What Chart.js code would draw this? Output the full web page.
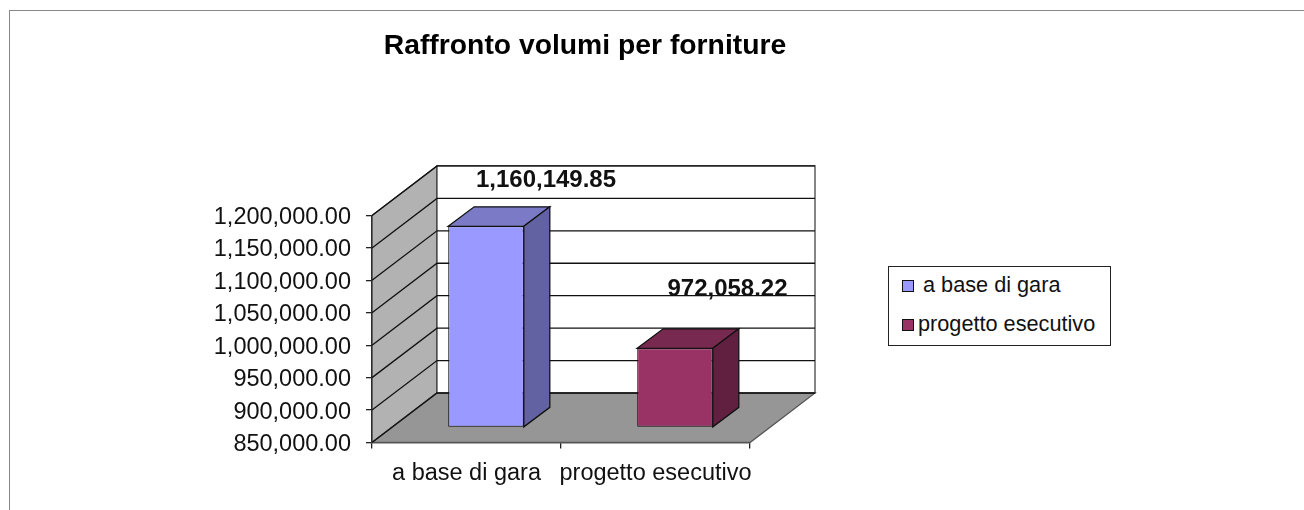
<!DOCTYPE html>
<html>
<head>
<meta charset="utf-8">
<title>Raffronto volumi per forniture</title>
<script src="https://cdn.jsdelivr.net/npm/chart.js@4"></script>
<style>
    html, body { margin: 0; padding: 0; background: #fff; overflow: hidden; }
    #wrap { position: relative; width: 1304px; height: 510px; filter: blur(0.45px); }
    #frame { position: absolute; left: 9px; top: 10px; right: -5px; bottom: -5px; border-left: 1px solid #888; border-top: 1px solid #888; }
    #myChart { position: absolute; left: 0; top: 0; }
    #legend {
        position: absolute; left: 888px; top: 266px; width: 221px; height: 78px;
        border: 1px solid #222; background: #fff;
        font: 21.7px "Liberation Sans", Arial, sans-serif; color: #111;
    }
    #legend div { position: absolute; white-space: nowrap; line-height: 26px; }
    #legend i { position: absolute; width: 10px; height: 10px; border: 1px solid #111; }
</style>
</head>
<body>
<div id="wrap">
    <div id="frame"></div>
    <canvas id="myChart" width="1304" height="510"></canvas>
    <div id="legend"></div>
</div>
<script>
// Data
const categories = ['a base di gara', 'progetto esecutivo'];
const volumes = [1160149.85, 972058.22];
const yTicks = [850000, 900000, 950000, 1000000, 1050000, 1100000, 1150000, 1200000];

// Bar colours: front, top and side face
const frontColors = ['#9999ff', '#993366'];
const topColors = ['#7a7ac6', '#78294f'];
const sideColors = ['#6262a3', '#612040'];

// 3d look
const wallDepth = { x: 65, y: -49.5 };
const barOffset = { x: 19.5, y: -15 };
const barDepth = { x: 26, y: -19.5 };
const labelShift = [{ x: 79.5, y: -61 }, { x: 72, y: -74 }];
const lineW = 1.3;

function money(v) {
    return v.toLocaleString('en-US', { minimumFractionDigits: 2, maximumFractionDigits: 2 });
}

function poly(ctx, pts, fill, stroke) {
    ctx.beginPath();
    ctx.moveTo(pts[0][0], pts[0][1]);
    for (let i = 1; i < pts.length; i++) ctx.lineTo(pts[i][0], pts[i][1]);
    ctx.closePath();
    if (fill) { ctx.fillStyle = fill; ctx.fill(); }
    if (stroke) { ctx.strokeStyle = stroke; ctx.lineWidth = lineW; ctx.stroke(); }
}

// Walls, floor and gridlines behind the bars
const wallsPlugin = {
    id: 'walls',
    afterLayout(chart) {
        // title is centred over the plot + legend gap, not the whole canvas
        chart.titleBlock.right = 1170;
    },
    beforeDatasetsDraw(chart) {
        const ctx = chart.ctx;
        const a = chart.chartArea;
        const dx = wallDepth.x, dy = wallDepth.y;
        ctx.save();
        poly(ctx, [[a.left, a.bottom], [a.left, a.top], [a.left + dx, a.top + dy], [a.left + dx, a.bottom + dy]], '#b2b2b2', '#333');
        poly(ctx, [[a.left, a.bottom], [a.left + dx, a.bottom + dy], [a.right + dx, a.bottom + dy], [a.right, a.bottom]], '#969696', '#555');
        poly(ctx, [[a.left + dx, a.top + dy], [a.right + dx, a.top + dy], [a.right + dx, a.bottom + dy], [a.left + dx, a.bottom + dy]], '#fff', '#444');
        ctx.strokeStyle = '#111';
        ctx.lineWidth = lineW;
        yTicks.forEach(function(t) {
            const y = chart.scales.y.getPixelForValue(t);
            ctx.beginPath();
            ctx.moveTo(a.left, y);
            ctx.lineTo(a.left + dx, y + dy);
            ctx.lineTo(a.right + dx, y + dy);
            ctx.stroke();
        });
        ctx.restore();
    },
    beforeDatasetDraw(chart) {
        chart.ctx.save();
        chart.ctx.translate(barOffset.x, barOffset.y);
    },
    afterDatasetDraw(chart, args) {
        const ctx = chart.ctx;
        args.meta.data.forEach(function(bar, i) {
            const r = bar.x + bar.width / 2, l = bar.x - bar.width / 2;
            const dx = barDepth.x, dy = barDepth.y;
            poly(ctx, [[l, bar.y], [l + dx, bar.y + dy], [r + dx, bar.y + dy], [r, bar.y]], topColors[i], '#111');
            poly(ctx, [[r, bar.y], [r + dx, bar.y + dy], [r + dx, bar.base + dy], [r, bar.base]], sideColors[i], '#111');
        });
        ctx.restore();
    },
    afterDraw(chart) {
        const ctx = chart.ctx;
        ctx.save();
        ctx.font = 'bold 24px "Liberation Sans", Arial, sans-serif';
        ctx.fillStyle = '#111';
        ctx.textAlign = 'center';
        ctx.textBaseline = 'middle';
        chart.getDatasetMeta(0).data.forEach(function(bar, i) {
            ctx.fillText(money(volumes[i]), bar.x + labelShift[i].x, bar.y + labelShift[i].y);
        });
        ctx.restore();
    }
};

const tickFont = { family: '"Liberation Sans", Arial, sans-serif', size: 23.5 };

const myChart = new Chart(document.getElementById('myChart'), {
    type: 'bar',
    data: {
        labels: categories,
        datasets: [{
            label: 'Volumi',
            data: volumes,
            base: yTicks[0],
            backgroundColor: frontColors,
            borderColor: '#111',
            borderWidth: 1,
            borderSkipped: false,
            barPercentage: 0.4,
            categoryPercentage: 1,
            clip: false
        }]
    },
    options: {
        responsive: false,
        animation: false,
        layout: { padding: { left: 0, right: 554, top: 0, bottom: 0 } },
        plugins: {
            legend: { display: false },
            tooltip: { enabled: false },
            title: {
                display: true,
                text: 'Raffronto volumi per forniture',
                color: '#000',
                font: { family: '"Liberation Sans", Arial, sans-serif', size: 28.3, weight: 'bold', lineHeight: 1.2 },
                padding: { top: 29, bottom: 152.5 }
            }
        },
        scales: {
            x: {
                grid: { drawOnChartArea: false, drawTicks: true, tickLength: 6, color: '#222', lineWidth: lineW, offset: true },
                border: { color: '#222', width: lineW },
                ticks: { font: tickFont, color: '#111', padding: 11, autoSkip: false, maxRotation: 0 },
                afterFit(scale) { scale.height = 67.5; }
            },
            y: {
                min: yTicks[0],
                max: yTicks[yTicks.length - 1],
                afterBuildTicks(scale) { scale.ticks = yTicks.map(function(v) { return { value: v }; }); },
                grid: { drawOnChartArea: false, drawTicks: true, tickLength: 6, color: '#222', lineWidth: lineW },
                border: { color: '#222', width: lineW },
                ticks: { font: tickFont, color: '#111', padding: 15, labelOffset: 2, callback: function(v) { return money(v); } },
                afterFit(scale) { scale.width = 372; }
            }
        }
    },
    plugins: [wallsPlugin]
});

// Legend
const legend = document.getElementById('legend');
const legendRows = [{ top: 5, left: 34, box: 13 }, { top: 44, left: 29, box: 52 }];
categories.forEach(function(name, i) {
    const row = document.createElement('div');
    row.textContent = name;
    row.style.top = legendRows[i].top + 'px';
    row.style.left = legendRows[i].left + 'px';
    legend.appendChild(row);
    const box = document.createElement('i');
    box.style.background = frontColors[i];
    box.style.left = '13px';
    box.style.top = legendRows[i].box + 'px';
    legend.appendChild(box);
});
</script>
</body>
</html>
